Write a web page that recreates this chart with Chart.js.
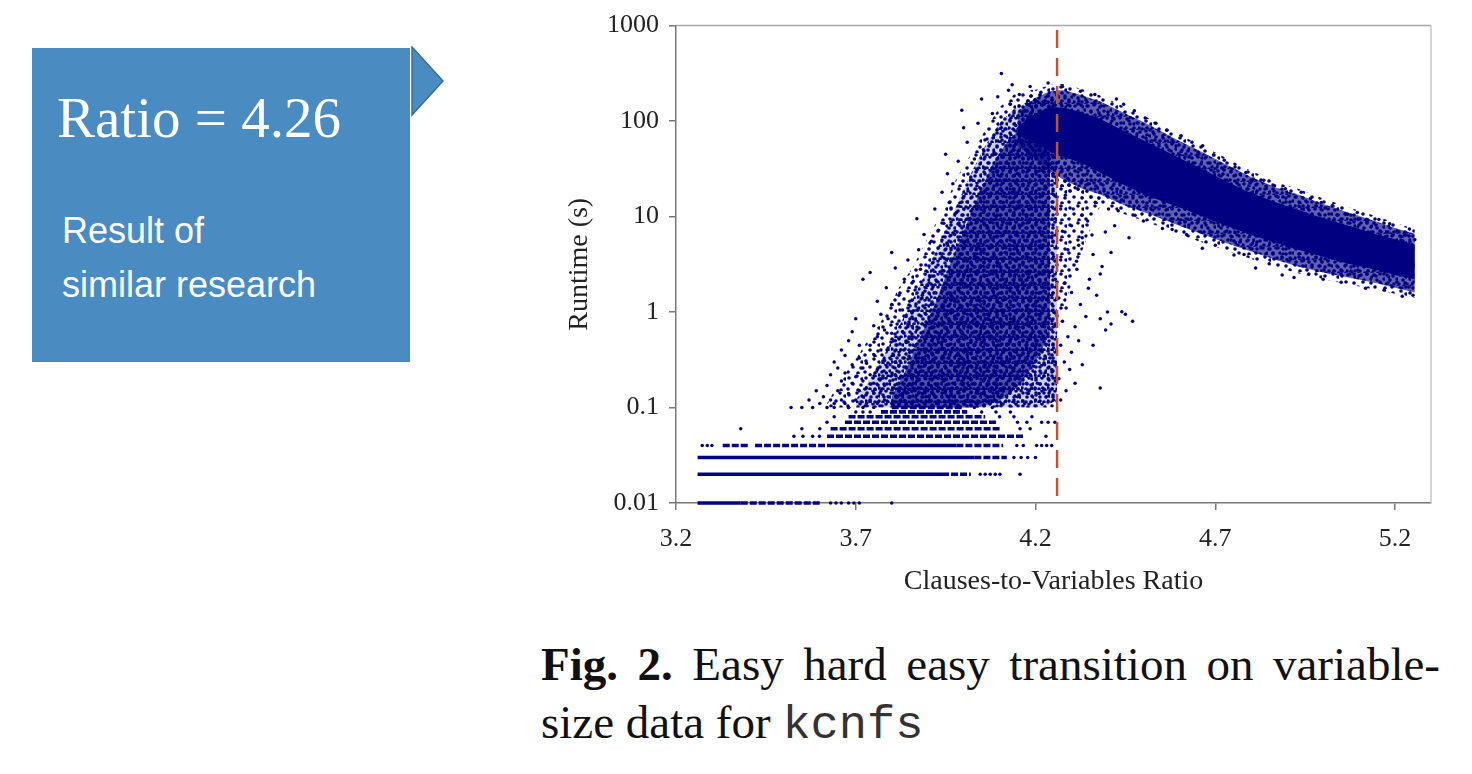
<!DOCTYPE html>
<html>
<head>
<meta charset="utf-8">
<script src="https://cdn.jsdelivr.net/npm/chart.js@4.4.1/dist/chart.umd.min.js"></script>
<style>
  body { margin: 0; width: 1472px; height: 774px; background: #fff; position: relative; overflow: hidden; }
  #box { position: absolute; left: 32px; top: 48px; width: 378px; height: 314px; background: #4a8bc1; }
  #arrow { position: absolute; left: 410px; top: 46px; }
  .ratio { position: absolute; left: 57px; top: 89px; font: 57px/57px 'Liberation Serif', serif; color: #fff; white-space: nowrap; }
  .note { position: absolute; left: 62px; top: 204px; font: 36px/54px 'Liberation Sans', Arial, sans-serif; color: #fff; }
  #plot { position: absolute; left: 540px; top: 0; width: 920px; height: 610px; }
  .cap { position: absolute; left: 541px; width: 899px; font: 47px/58px 'Liberation Serif', serif; color: #111; }
  .cap.l1 { top: 635px; text-align: justify; text-align-last: justify; }
  .cap.l2 { top: 693px; }
  .cap b { font-weight: bold; }
  .mono { font-family: 'Liberation Mono', monospace; color: #333; }
</style>
</head>
<body>
<div id="box"></div>
<svg id="arrow" width="40" height="74"><polygon points="2,1 33,35 2,69" fill="#4a8bc1" stroke="#3a6d98" stroke-width="1.5"/></svg>
<div class="ratio">Ratio = 4.26</div>
<div class="note">Result of<br>similar research</div>
<div id="plot"><canvas id="chart"></canvas></div>
<div class="cap l1"><b>Fig. 2.</b> Easy hard easy transition on variable-</div>
<div class="cap l2">size data for <span class="mono">kcnfs</span></div>

<script>
// --- axis setup ---
const xTicks = [3.2, 3.7, 4.2, 4.7, 5.2];
const yTicks = [0.01, 0.1, 1, 10, 100, 1000];
const threshold = 4.26;

// runtimes are measured in 0.01 s steps, so the fast runs pile up in rows
// [runtime, from ratio, to ratio]
const solidRuns = [
  [0.01, 3.26, 3.38],
  [0.02, 3.26, 3.94],
  [0.03, 3.26, 4.03],
  [0.04, 3.62, 3.98]
];
const brokenRuns = [
  [0.01, 3.38, 3.60],
  [0.02, 3.94, 4.02],
  [0.03, 4.03, 4.12],
  [0.04, 3.33, 3.40],
  [0.04, 3.42, 3.62],
  [0.04, 3.98, 4.11],
  [0.05, 3.62, 4.17],
  [0.06, 3.63, 4.10],
  [0.07, 3.67, 4.09],
  [0.08, 3.68, 4.06],
  [0.09, 3.77, 4.01],
  [0.10, 3.80, 4.00]
];
// loose points on those rows [ratio, runtime]
const rowDots = [
  [3.63,0.01],[3.645,0.01],[3.66,0.01],[3.68,0.01],[3.695,0.01],[3.71,0.01],[3.80,0.01],
  [4.046,0.02],[4.06,0.02],[4.074,0.02],[4.088,0.02],[4.101,0.02],[4.157,0.02],
  [4.14,0.03],[4.16,0.03],[4.178,0.03],[4.20,0.03],
  [3.273,0.04],[3.287,0.04],[3.30,0.04],[4.148,0.04],[4.166,0.04],[4.203,0.04],[4.217,0.04],[4.231,0.04],[4.245,0.04],
  [3.528,0.05],[3.553,0.05],[3.58,0.05],[3.599,0.05],[4.229,0.05],
  [3.38,0.06],[3.55,0.06],[3.60,0.06],[4.157,0.06],[4.185,0.06],
  [3.62,0.07],[4.15,0.07],[4.176,0.07],[4.217,0.07],[4.235,0.07],[4.254,0.07],
  [3.64,0.08],[4.10,0.08],[4.14,0.08],[4.19,0.08],
  [3.70,0.09],[3.72,0.09],[3.74,0.09],[4.05,0.09],[4.09,0.09],[4.13,0.09],
  [3.64,0.1],[3.68,0.1],[3.75,0.1],[4.03,0.1],[4.08,0.1]
];

// under-constrained side: runtimes climbing towards the threshold [ratio, runtime]
const risePts = [
  [3.52,0.10],[3.55,0.10],[3.57,0.12],[3.58,0.10],[3.59,0.15],[3.60,0.11],
  [3.61,0.13],[3.62,0.17],[3.62,0.10],[3.63,0.22],[3.63,0.12],[3.64,0.30],[3.64,0.11],[3.65,0.15],[3.65,0.26],[3.66,0.12],[3.66,0.40],[3.66,0.19],
  [3.67,0.11],[3.67,0.23],[3.67,0.35],[3.68,0.14],[3.68,0.5],[3.68,0.1],[3.69,0.18],[3.69,0.28],[3.69,0.62],[3.70,0.12],[3.70,0.21],[3.70,0.85],
  [3.71,0.15],[3.71,0.33],[3.71,0.45],[3.72,0.1],[3.72,2.2],[3.72,0.26],
  [3.72,0.13],[3.72,0.19],[3.73,0.11],[3.73,0.29],[3.73,0.16],[3.74,0.45],[3.74,0.12],[3.74,0.22],[3.74,2.6],[3.75,0.14],[3.75,0.36],[3.75,0.72],
  [3.75,0.18],[3.76,0.11],[3.76,0.25],[3.76,0.55],[3.76,1.3],[3.77,0.15],[3.77,0.2],[3.77,0.4],[3.77,0.95],[3.78,0.12],[3.78,0.31],[3.78,0.17],[3.78,0.65],
  [3.785,0.23],[3.785,1.8],[3.79,0.13],[3.79,0.42],[3.79,0.85],[3.795,0.19],[3.795,0.28],[3.80,0.11],[3.80,0.6],[3.80,1.2],[3.805,0.16],[3.805,0.35],
  [3.81,0.22],[3.81,0.5],[3.81,2.9],[3.815,0.13],[3.815,0.75],[3.82,0.27],[3.82,0.18],[3.82,1.5],[3.825,0.4],[3.825,0.12],[3.83,0.21],[3.83,0.62],
  [3.83,1.05],[3.835,0.15],[3.835,0.33],[3.835,2.2],[3.84,0.11],[3.84,0.26],[3.84,0.48],[3.84,0.9],[3.80,4.2],[3.83,0.14],[3.81,0.3],
  [3.845,0.17],[3.845,0.7],[3.845,3.5],[3.85,0.13],[3.85,0.38],[3.85,1.3],[3.855,0.22],[3.855,0.55],[3.855,0.11],[3.86,0.29],[3.86,0.85],[3.86,2.1],
  [3.865,0.15],[3.865,0.44],[3.865,1.7],[3.87,0.19],[3.87,0.65],[3.87,9.5],[3.87,0.12],[3.875,0.33],[3.875,1.1],[3.875,4.5],[3.88,0.24],[3.88,0.5],
  [3.88,0.16],[3.88,2.8],[3.885,0.14],[3.885,0.75],[3.885,1.5],[3.89,0.27],[3.89,0.41],[3.89,0.11],[3.89,6.5],[3.895,0.2],[3.895,0.95],[3.895,3.1],
  [3.9,0.15],[3.9,0.6],[3.9,1.9],[3.9,0.35],[3.86,0.18],[3.875,0.23],[3.885,0.31],[3.895,0.13],[3.855,1.0],
  [3.905,0.12],[3.905,0.26],[3.905,0.8],[3.905,2.4],[3.91,0.17],[3.91,0.45],[3.91,1.2],[3.91,5.5],[3.915,0.14],[3.915,0.32],[3.915,0.68],[3.915,3.3],
  [3.92,0.21],[3.92,0.55],[3.92,1.6],[3.92,12],[3.925,0.11],[3.925,0.38],[3.925,0.9],[3.925,2.1],[3.93,0.16],[3.93,0.28],[3.93,1.05],[3.93,7.2],
  [3.935,0.24],[3.935,0.6],[3.935,1.4],[3.935,4.1],[3.94,0.13],[3.94,0.42],[3.94,0.75],[3.94,2.7],[3.94,18],[3.945,0.19],[3.945,0.33],[3.945,1.15],
  [3.945,8.5],[3.95,0.15],[3.95,0.5],[3.95,1.8],[3.95,3.6],[3.95,45],[3.955,0.22],[3.955,0.65],[3.955,0.95],[3.955,5.2],[3.96,0.12],[3.96,0.36],
  [3.96,2.3],[3.96,14],[3.91,0.23],[3.92,0.13],[3.93,0.48],[3.94,0.2],[3.95,0.26],[3.96,0.8],[3.915,1.9],[3.925,0.17],[3.945,0.55],[3.955,28],
  [3.965,0.14],[3.965,0.3],[3.965,0.7],[3.965,1.5],[3.965,4.5],[3.97,0.18],[3.97,0.42],[3.97,1.0],[3.97,2.6],[3.97,22],[3.975,0.11],[3.975,0.25],
  [3.975,0.58],[3.975,1.3],[3.975,6.5],[3.98,0.16],[3.98,0.35],[3.98,0.85],[3.98,3.1],[3.98,11],[3.985,0.21],[3.985,0.5],[3.985,1.7],[3.985,38],
  [3.99,0.13],[3.99,0.28],[3.99,0.65],[3.99,2.0],[3.99,8],[3.995,0.19],[3.995,0.45],[3.995,1.1],[3.995,4.0],[3.995,130],[4.0,0.15],[4.0,0.32],
  [4.0,0.78],[4.0,2.4],[4.0,16],[4.005,0.23],[4.005,0.55],[4.005,1.4],[4.005,5.5],[4.01,0.12],[4.01,0.38],[4.01,0.95],[4.01,3.4],[4.01,60],
  [4.015,0.17],[4.015,0.27],[4.015,0.7],[4.015,1.9],[4.015,9.5],[4.02,0.2],[4.02,0.48],[4.02,1.2],[4.02,2.8],[4.02,26],[3.97,0.13],[3.98,0.24],
  [3.99,0.4],[4.0,0.18],[4.01,0.26],[3.975,0.9],[3.985,0.3],[3.995,0.6],[4.005,0.16],[4.015,0.42],[3.965,12],[4.0,85],
  [4.025,0.13],[4.025,0.33],[4.025,0.8],[4.025,2.2],[4.025,7],[4.03,0.18],[4.03,0.45],[4.03,1.05],[4.03,3.8],[4.03,40],[4.035,0.11],[4.035,0.26],
  [4.035,0.62],[4.035,1.6],[4.035,14],[4.04,0.15],[4.04,0.38],[4.04,0.9],[4.04,2.6],[4.04,5.2],[4.04,95],[4.045,0.22],[4.045,0.52],[4.045,1.3],
  [4.045,20],[4.05,0.14],[4.05,0.3],[4.05,0.72],[4.05,1.9],[4.05,4.3],[4.05,170],[4.055,0.19],[4.055,0.43],[4.055,1.1],[4.055,3.0],[4.055,11],
  [4.06,0.12],[4.06,0.28],[4.06,0.6],[4.06,1.45],[4.06,32],[4.065,0.17],[4.065,0.4],[4.065,0.95],[4.065,2.4],[4.065,8],[4.065,65],[4.07,0.24],
  [4.07,0.55],[4.07,1.2],[4.07,3.5],[4.07,17],[4.075,0.13],[4.075,0.35],[4.075,0.82],[4.075,2.0],[4.075,6],[4.08,0.16],[4.08,0.3],[4.08,0.68],
  [4.08,1.7],[4.08,4.8],[4.08,120],[4.03,0.21],[4.04,0.14],[4.05,0.48],[4.06,0.85],[4.07,0.19],[4.025,12],[4.035,4.5],[4.045,2.9],[4.055,50],
  [4.065,0.26],[4.075,25],[4.05,9],
  [4.085,0.12],[4.085,0.27],[4.085,0.63],[4.085,1.5],[4.085,3.9],[4.085,45],[4.09,0.18],[4.09,0.44],[4.09,1.0],[4.09,2.6],[4.09,10],[4.095,0.14],
  [4.095,0.33],[4.095,0.78],[4.095,1.9],[4.095,7],[4.095,180],[4.1,0.21],[4.1,0.5],[4.1,1.25],[4.1,3.2],[4.1,24],[4.105,0.11],[4.105,0.29],
  [4.105,0.7],[4.105,1.6],[4.105,5.5],[4.105,315],[4.11,0.16],[4.11,0.38],[4.11,0.92],[4.11,2.2],[4.11,14],[4.115,0.23],[4.115,0.55],[4.115,1.35],
  [4.115,4.2],[4.115,70],[4.12,0.13],[4.12,0.31],[4.12,0.75],[4.12,1.8],[4.12,8.5],[4.125,0.19],[4.125,0.46],[4.125,1.1],[4.125,2.9],[4.125,36],
  [4.13,0.15],[4.13,0.36],[4.13,0.85],[4.13,2.0],[4.13,5],[4.13,150],[4.135,0.26],[4.135,0.6],[4.135,1.45],[4.135,3.6],[4.135,18],[4.14,0.12],
  [4.14,0.34],[4.14,0.8],[4.14,2.4],[4.14,11],[4.14,55],[4.09,0.24],[4.1,0.15],[4.11,0.28],[4.12,0.45],[4.13,0.2],[4.095,30],[4.115,105],
  [4.125,210],[4.105,85],[4.135,240],
  [4.145,0.17],[4.145,0.4],[4.145,1.0],[4.145,2.7],[4.145,6.5],[4.145,90],[4.15,0.13],[4.15,0.29],[4.15,0.66],[4.15,1.7],[4.15,4.4],[4.15,28],
  [4.155,0.2],[4.155,0.48],[4.155,1.2],[4.155,3.1],[4.155,13],[4.155,190],[4.16,0.15],[4.16,0.35],[4.16,0.88],[4.16,2.2],[4.16,8],[4.16,60],
  [4.165,0.24],[4.165,0.56],[4.165,1.4],[4.165,3.8],[4.165,21],[4.17,0.11],[4.17,0.31],[4.17,0.74],[4.17,1.9],[4.17,5.6],[4.17,130],[4.175,0.18],
  [4.175,0.42],[4.175,1.05],[4.175,2.6],[4.175,10],[4.18,0.14],[4.18,0.37],[4.18,0.9],[4.18,2.3],[4.18,40],[4.185,0.22],[4.185,0.52],[4.185,1.3],
  [4.185,4.8],[4.185,230],[4.19,0.16],[4.19,0.33],[4.19,0.8],[4.19,1.6],[4.19,15],[4.195,0.27],[4.195,0.62],[4.195,2.0],[4.195,6.8],[4.2,0.12],
  [4.2,0.44],[4.2,1.15],[4.2,3.4],[4.2,75],
  [4.205,0.18],[4.205,0.5],[4.205,1.3],[4.205,9],[4.205,160],[4.21,0.14],[4.21,0.36],[4.21,0.95],[4.21,2.5],[4.21,30],[4.215,0.23],[4.215,0.6],
  [4.215,1.6],[4.215,5],[4.215,200],[4.22,0.16],[4.22,0.4],[4.22,1.1],[4.22,3.2],[4.22,14],[4.225,0.28],[4.225,0.7],[4.225,2.0],[4.225,7.5],
  [4.225,48],[4.23,0.13],[4.23,0.46],[4.23,1.35],[4.23,4.2],[4.23,20],[4.235,0.2],[4.235,0.55],[4.235,1.8],[4.235,11],[4.235,250],[4.24,0.15],
  [4.24,0.33],[4.24,0.85],[4.24,2.6],[4.24,35],[4.245,0.25],[4.245,0.65],[4.245,1.5],[4.245,6],[4.25,0.12],[4.25,0.42],[4.25,1.0],[4.25,3.8],
  [4.25,17],[4.255,0.19],[4.255,0.3],[4.255,0.75],[4.255,2.2],[4.255,9.5],[4.255,26]
];

// stragglers just past the threshold [ratio, runtime]
const pastPts = [
  [4.265,0.2],[4.265,1.4],[4.27,0.45],[4.27,3.5],[4.27,0.12],[4.275,0.8],[4.275,7],[4.28,0.3],[4.28,2.0],[4.285,0.15],[4.285,1.1],[4.29,0.55],
  [4.29,4.5],[4.295,0.25],[4.3,1.6],[4.3,0.38],[4.305,12],[4.31,0.7],[4.31,0.18],[4.315,2.8],[4.32,0.5],[4.325,1.2],[4.33,0.28],[4.33,6],
  [4.34,0.9],[4.35,2.2],[4.36,0.45],[4.37,1.5],[4.38,0.85],[4.38,0.16],[4.395,0.65],[4.4,1.0],[4.41,0.75],[4.345,9],[4.36,4],[4.385,3],
  [4.42,8],[4.44,15],[4.31,20],[4.283,16.7],[4.329,10.3],[4.357,6.4],[4.394,6.9],[4.314,3.4],[4.347,1.78],[4.44,1.01],[4.366,14.1],
  [4.477,10.3],[4.403,12],[4.30,8],[4.27,12],[4.32,5],[4.41,4.2],[4.46,6],[4.38,2.5],[4.29,25],[4.35,22],[4.47,0.8],[4.45,0.95]
];

// over-constrained side: the decaying band
// solid core
const bandX      = [4.15, 4.20, 4.24, 4.28, 4.33, 4.38, 4.45, 4.52, 4.60, 4.66, 4.73, 4.80, 4.87, 4.93, 5.00, 5.07, 5.15, 5.20, 5.255];
const bandHigh   = [88, 120, 140, 138, 122, 105, 78, 58, 41, 32, 23.5, 17.5, 14, 11.8, 9.6, 8.0, 6.5, 5.8, 5.1];
const bandLow    = [72, 60, 48, 42, 36, 29, 21, 16, 12.5, 10.2, 8.0, 6.4, 5.3, 4.5, 3.8, 3.2, 2.75, 2.45, 2.2];
// crowded fringe around it, then the thin outer edge
const fringeHigh = [125, 175, 205, 210, 185, 160, 120, 90, 62, 48, 35, 26, 20, 17, 13.5, 11, 8.8, 7.6, 6.6];
const fringeLow  = [55, 40, 30, 24, 19.5, 17, 13, 10.5, 8.0, 6.6, 5.3, 4.3, 3.5, 3.0, 2.6, 2.3, 2.0, 1.8, 1.6];
const edgeHigh   = [150, 210, 240, 245, 215, 185, 140, 105, 72, 56, 41, 30, 23, 19.5, 15.5, 12.5, 10, 8.6, 7.4];
const edgeLow    = [45, 32, 24, 19, 15.5, 13.5, 10.5, 8.5, 6.5, 5.4, 4.4, 3.6, 2.95, 2.55, 2.2, 1.95, 1.7, 1.55, 1.4];

// thinning spill just right of the threshold, under the band
const spillX = [4.26, 4.29, 4.32, 4.35, 4.38];
const spillH = [30, 24, 20, 18, 16];
const spillL = [0.6, 1.5, 3.5, 7, 13];

// how thick the rising cloud gets: thin outer zone, middle zone, crowded zone
const riseOuterX = [3.62, 3.66, 3.70, 3.74, 3.78, 3.82, 3.86, 3.90, 3.94, 3.98, 4.02, 4.06, 4.10, 4.14, 4.18, 4.22, 4.26];
const riseOuterH = [0.11, 0.2, 0.32, 0.55, 0.9, 1.8, 3.0, 6, 11, 25, 45, 80, 140, 190, 210, 215, 200];
const riseOuterL = [0.1, 0.1, 0.1, 0.1, 0.1, 0.1, 0.1, 0.1, 0.1, 0.1, 0.1, 0.1, 0.1, 0.1, 0.1, 0.1, 0.1];
const riseMidX   = [3.70, 3.74, 3.78, 3.82, 3.86, 3.90, 3.94, 3.98, 4.02, 4.06, 4.10, 4.14, 4.18, 4.22, 4.26];
const riseMidH   = [0.12, 0.2, 0.36, 0.7, 1.4, 2.8, 6, 13, 28, 55, 95, 135, 160, 165, 155];
const riseMidL   = [0.1, 0.1, 0.1, 0.1, 0.1, 0.1, 0.1, 0.1, 0.1, 0.1, 0.1, 0.1, 0.1, 0.1, 0.12];
const riseCoreX  = [3.80, 3.84, 3.88, 3.92, 3.96, 4.00, 4.04, 4.08, 4.12, 4.16, 4.20, 4.24];
const riseCoreH  = [0.13, 0.25, 0.55, 1.2, 3, 7, 16, 35, 60, 85, 100, 105];
const riseCoreL  = [0.1, 0.1, 0.1, 0.1, 0.1, 0.1, 0.1, 0.11, 0.13, 0.18, 0.3, 0.6];

// outliers beyond the band's edge [ratio, runtime]
const bandTopPts = [
  [4.275,230],[4.325,205],[4.365,190],[4.425,170],[4.445,150],[4.475,128],[4.505,108],[4.535,95],[4.565,80],[4.583,60],[4.605,70],
  [4.635,60],[4.665,55],[4.695,44],[4.725,39],[4.755,33],[4.785,29],[4.806,24.8],[4.835,24],[4.865,21],[4.895,19.5],[4.939,18],
  [4.965,15.5],[4.995,14],[5.025,13],[5.068,10.6],[5.095,11],[5.12,9.4],[5.155,9.3],[5.185,8.4],[5.227,6.4],[5.255,5.7],[5.24,7.4]
];
const bandLowPts = [
  [4.553,7.5],[4.664,4.65],[4.752,3.96],[4.812,2.9],[4.886,2.45],[4.919,2.3],[5.0,2.2],[5.118,1.78],[5.22,1.46],[5.25,1.5],
  [4.62,6.5],[4.70,5.0],[4.78,4.0],[4.85,3.2],[4.96,2.5],[5.05,2.05],[5.17,1.7],[4.50,9.0],[4.43,11.5],[4.58,7.3]
];

// --- styling ---
const NAVY = '#000080';
const SERIF = "'Liberation Serif', 'Times New Roman', serif";
const pairs = arr => arr.map(([x, y]) => ({ x, y }));
const zip = (xs, ys) => xs.map((x, i) => ({ x, y: ys[i] }));

// stipple texture for the crowded areas (too many points to list one by one)
function stipple(size, wash, spots) {
  const c = document.createElement('canvas');
  c.width = c.height = size;
  const g = c.getContext('2d');
  g.fillStyle = wash;
  g.fillRect(0, 0, size, size);
  g.fillStyle = NAVY;
  spots.forEach(([sx, sy]) => { g.beginPath(); g.arc(sx, sy, 1.8, 0, Math.PI * 2); g.fill(); });
  return g.createPattern(c, 'repeat');
}
const denseFill = stipple(13, 'rgba(0,0,128,0.62)', [[2,2],[8,1],[12,6],[5,7],[1,11],[9,11],[6,13],[13,13]]);
const midFill   = stipple(13, 'rgba(0,0,128,0.18)', [[2,3],[8,1],[12,7],[6,7],[1,11],[10,12],[5,12]]);
const thinFill  = stipple(17, 'rgba(0,0,0,0)', [[3,4],[11,2],[7,10],[15,11],[2,15],[12,16],[16,5]]);

function dots(data) {
  return { type: 'scatter', data: pairs(data), backgroundColor: NAVY, borderWidth: 0,
           pointRadius: 1.75, order: 1, clip: 3 };
}
function run(r, dash) {
  return { type: 'line', data: [{ x: r[1], y: r[0] }, { x: r[2], y: r[0] }],
           borderColor: NAVY, borderWidth: 3.6, borderDash: dash, pointRadius: 0,
           order: 2, clip: false };
}
function area(xs, hi, lo, fill, order) {
  return [
    { type: 'line', data: zip(xs, hi), borderWidth: 0, pointRadius: 0, fill: '+1', backgroundColor: fill, order },
    { type: 'line', data: zip(xs, lo), borderWidth: 0, pointRadius: 0, order }
  ];
}

const datasets = [
  { type: 'line', data: [{ x: threshold, y: 900 }, { x: threshold, y: 0.01 }],
    borderColor: '#b4573c', borderWidth: 2.5, borderDash: [18, 10], pointRadius: 0, order: 0 },
  dots(risePts), dots(pastPts), dots(bandTopPts), dots(bandLowPts), dots(rowDots),
  ...solidRuns.map(r => run(r, [])),
  ...brokenRuns.map(r => run(r, [7, 2])),
  ...area(bandX, bandHigh, bandLow, NAVY, 3),
  ...area(bandX, fringeHigh, fringeLow, denseFill, 4),
  ...area(bandX, edgeHigh, edgeLow, thinFill, 5),
  ...area(spillX, spillH, spillL, thinFill, 5),
  ...area(riseCoreX, riseCoreH, riseCoreL, denseFill, 6),
  ...area(riseMidX, riseMidH, riseMidL, midFill, 7),
  ...area(riseOuterX, riseOuterH, riseOuterL, thinFill, 8)
];

// light frame on the top and right
const framePlugin = {
  id: 'frame',
  afterDraw(chart) {
    const { ctx, chartArea: a } = chart;
    ctx.save();
    ctx.lineWidth = 1.5;
    ctx.strokeStyle = '#a8a8a8';
    ctx.beginPath(); ctx.moveTo(a.left, a.top); ctx.lineTo(a.right, a.top); ctx.stroke();
    ctx.strokeStyle = '#c6c6c6';
    ctx.beginPath(); ctx.moveTo(a.right, a.top); ctx.lineTo(a.right, a.bottom); ctx.stroke();
    ctx.restore();
  }
};

new Chart(document.getElementById('chart'), {
  type: 'scatter',
  data: { datasets },
  options: {
    responsive: true,
    maintainAspectRatio: false,
    animation: false,
    layout: { padding: { top: 23, right: 29, left: 0, bottom: 0 } },
    plugins: { legend: { display: false }, tooltip: { enabled: false } },
    scales: {
      x: {
        type: 'linear', min: 3.2, max: 5.3,
        afterBuildTicks: s => { s.ticks = xTicks.map(v => ({ value: v })); },
        afterFit: s => { s.height = 107; },
        ticks: { font: { family: SERIF, size: 26 }, color: '#222', padding: 14,
                 callback: v => v.toFixed(1) },
        grid: { drawOnChartArea: false, tickLength: 7, color: '#777', lineWidth: 1.5 },
        border: { color: '#777', width: 1.5 },
        title: { display: true, text: 'Clauses-to-Variables Ratio', color: '#222',
                 font: { family: SERIF, size: 28 }, padding: { top: 0, bottom: 12 } }
      },
      y: {
        type: 'logarithmic', min: 0.01, max: 1000,
        afterBuildTicks: s => { s.ticks = yTicks.map(v => ({ value: v })); },
        afterFit: s => { s.width = 136; },
        ticks: { font: { family: SERIF, size: 26 }, color: '#222', padding: 10,
                 callback: v => String(v) },
        grid: { drawOnChartArea: false, tickLength: 7, color: '#777', lineWidth: 1.5 },
        border: { color: '#777', width: 1.5 },
        title: { display: true, text: 'Runtime (s)', color: '#222',
                 font: { family: SERIF, size: 28 }, padding: { top: 23, bottom: 0 } }
      }
    }
  },
  plugins: [framePlugin]
});
</script>
</body>
</html>
